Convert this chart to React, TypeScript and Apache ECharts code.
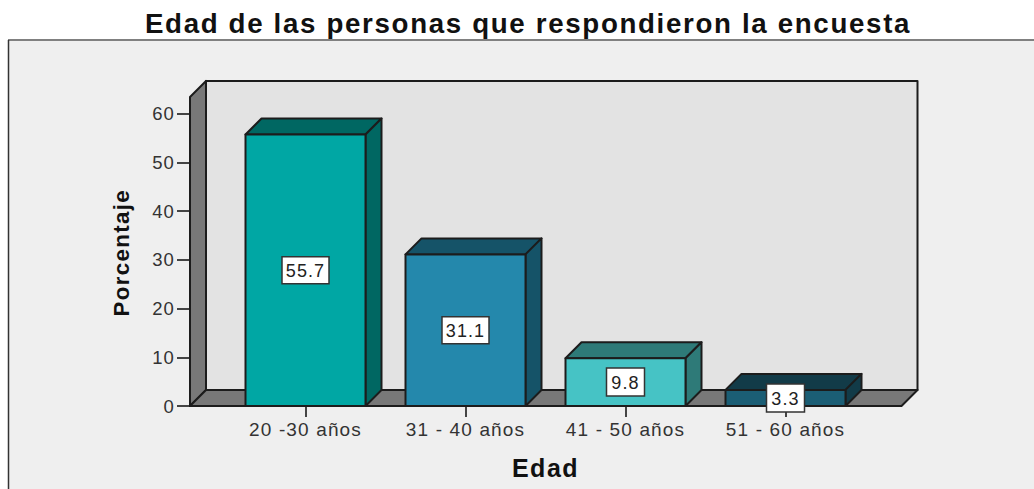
import React, { useEffect, useRef } from "react";
import * as echarts from "echarts";

const TITLE = "Edad de las personas que respondieron la encuesta";
const categories = ["20 -30 años", "31 - 40 años", "41 - 50 años", "51 - 60 años"];
const values = [55.7, 31.1, 9.8, 3.3];
const frontColors = ["#00A7A4", "#2488AC", "#46C3C5", "#1B5E75"];
const sideColors = ["#006762", "#155368", "#2E7A78", "#123B48"];
const yTicks = { min: 0, max: 60, interval: 10 };
const wallTopValue = 63.4;

const DEPTH = 16;
const LINE = "#1c1c1c";
const FONT = "'Liberation Sans', Arial, sans-serif";

export default function App() {
  const ref = useRef<HTMLDivElement>(null);
  useEffect(() => {
    document.body.style.margin = "0";
    const css = document.createElement("style");
    css.textContent = "svg text{letter-spacing:.06em}";
    document.head.appendChild(css);
    const chart = echarts.init(ref.current!, undefined, { renderer: "svg" });
    chart.setOption({
      animation: false,
      backgroundColor: "#ffffff",
      graphic: [
        { type: "rect", z: -10, shape: { x: 8, y: 40, width: 1026, height: 449 }, style: { fill: "#EFEFEF" } },
        { type: "line", z: -9, shape: { x1: 8, y1: 40, x2: 1034, y2: 40 }, style: { stroke: "#808080", lineWidth: 2 } },
        { type: "line", z: -9, shape: { x1: 8.5, y1: 40, x2: 8.5, y2: 489 }, style: { stroke: "#333333", lineWidth: 1.5 } },
      ],
      title: {
        text: TITLE,
        left: 523,
        top: 4,
        textAlign: "center",
        textStyle: { fontFamily: FONT, fontSize: 27.7, fontWeight: "bold", color: "#111111" },
      },
      grid: { left: 225.5, width: 640, top: 113.5, height: 292.5, outerBoundsMode: "none" },
      xAxis: {
        type: "category",
        data: categories,
        name: "Edad",
        nameLocation: "middle",
        nameGap: 49,
        nameTextStyle: { fontFamily: FONT, fontSize: 25, fontWeight: "bold", color: "#111111" },
        axisLine: { show: false },
        axisTick: { show: true, alignWithLabel: true, length: 11, lineStyle: { color: "#444444", width: 2 } },
        axisLabel: { fontFamily: FONT, fontSize: 19, color: "#333333", margin: 14 },
      },
      yAxis: {
        type: "value",
        min: yTicks.min,
        max: yTicks.max,
        interval: yTicks.interval,
        offset: 35.5,
        name: "Porcentaje",
        nameLocation: "middle",
        nameGap: 58,
        nameTextStyle: { fontFamily: FONT, fontSize: 22.3, fontWeight: "bold", color: "#111111", padding: [0, 0, 0, 14] },
        splitLine: { show: false },
        axisLine: { show: false },
        axisTick: { show: true, length: 13, lineStyle: { color: "#444444", width: 2 } },
        axisLabel: { fontFamily: FONT, fontSize: 18.5, color: "#333333", margin: 15 },
      },
      series: [
        {
          type: "custom",
          silent: true,
          z: 1,
          data: [[0, 0]],
          renderItem: (_p: any, api: any) => {
            const [, y0] = api.coord([0, 0]);
            const [, yt] = api.coord([0, wallTopValue]);
            const xl = 190;
            const xr = 901.5;
            const common = { stroke: LINE, lineWidth: 2, lineJoin: "round" };
            return {
              type: "group",
              children: [
                { type: "rect", shape: { x: xl + DEPTH, y: yt - DEPTH, width: xr - xl, height: y0 - yt }, style: { fill: "#E3E3E3", ...common } },
                { type: "polygon", shape: { points: [[xl, yt], [xl + DEPTH, yt - DEPTH], [xl + DEPTH, y0 - DEPTH], [xl, y0]] }, style: { fill: "#787878", ...common } },
                { type: "polygon", shape: { points: [[xl, y0], [xr, y0], [xr + DEPTH, y0 - DEPTH], [xl + DEPTH, y0 - DEPTH]] }, style: { fill: "#787878", ...common } },
              ],
            };
          },
        },
        {
          type: "custom",
          silent: true,
          z: 3,
          encode: { x: 0, y: 1 },
          data: values.map((v, i) => [i, v]),
          renderItem: (_p: any, api: any) => {
            const i = api.value(0);
            const v = api.value(1);
            const [cx, yTop] = api.coord([i, v]);
            const [, y0] = api.coord([i, 0]);
            const w = api.size([1, 0])[0] * 0.75;
            const l = cx - w / 2;
            const r = cx + w / 2;
            const common = { stroke: LINE, lineWidth: 2, lineJoin: "round" };
            const label = values[i].toFixed(1);
            const cy = (yTop + y0) / 2;
            const hw = i > 1 ? 19 : 23.5;
            const hh = i > 1 ? 14 : 13.5;
            return {
              type: "group",
              children: [
                { type: "polygon", shape: { points: [[l, yTop], [r, yTop], [r + DEPTH, yTop - DEPTH], [l + DEPTH, yTop - DEPTH]] }, style: { fill: sideColors[i], ...common } },
                { type: "polygon", shape: { points: [[r, yTop], [r + DEPTH, yTop - DEPTH], [r + DEPTH, y0 - DEPTH], [r, y0]] }, style: { fill: sideColors[i], ...common } },
                { type: "rect", shape: { x: l, y: yTop, width: w, height: y0 - yTop }, style: { fill: frontColors[i], ...common } },
                { type: "rect", shape: { x: cx - hw, y: cy - hh, width: 2 * hw, height: 2 * hh }, style: { fill: "#ffffff", stroke: "#333333", lineWidth: 1.5 } },
                { type: "text", style: { text: label, x: cx, y: cy + 1, align: "center", verticalAlign: "middle", fontFamily: FONT, fontSize: 18, fill: "#222222" } },
              ],
            };
          },
        },
      ],
    });
    return () => {
      chart.dispose();
      css.remove();
    };
  }, []);
  return <div ref={ref} style={{ width: 1034, height: 489 }} />;
}
